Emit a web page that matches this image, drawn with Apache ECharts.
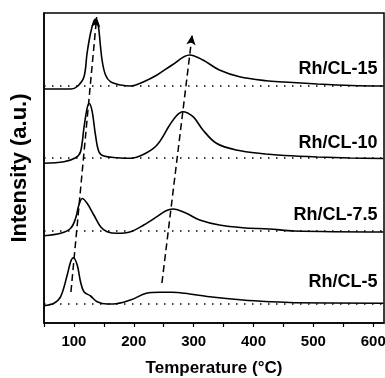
<!DOCTYPE html>
<html>
<head>
<meta charset="utf-8">
<script src="https://cdn.jsdelivr.net/npm/echarts@6/dist/echarts.min.js"></script>
<style>
  html, body { margin: 0; padding: 0; background: #fff; }
  #chart { width: 385px; height: 378px; }
</style>
</head>
<body>
<div id="chart"></div>
<script>
// sample names, bottom to top
const names = ['Rh/CL-5', 'Rh/CL-7.5', 'Rh/CL-10', 'Rh/CL-15']
// vertical offset of each trace (a.u.)
const offsets = [19.7, 92, 165, 237]

// temperature (°C) and intensity (a.u., relative to own baseline)
const temp5 = [50, 66.7, 77.8, 88.8, 94.5, 99, 105.5, 111, 116.7, 127.8, 138.8, 155.5, 165.5, 194.5, 221, 243, 264, 285, 326.7, 382, 426.7, 468, 617]
const int5 = [-2.4, 0, 6.6, 28.3, 41.6, 45.6, 38.3, 21.6, 11.6, 7.3, 1.6, -0.7, -0.7, 3.3, 10, 11, 11, 10, 6.6, 3.3, 1.6, 0.6, 0]

const temp75 = [50, 77.8, 94.5, 102.8, 108.3, 114, 122, 133.3, 144.5, 155.5, 172, 194.5, 216.7, 238.8, 253, 265.5, 287.8, 310, 343, 382, 426.7, 468, 617]
const int75 = [-4.7, -2.3, 2.7, 12.7, 26, 32.5, 27.7, 16, 4.3, -0.7, -2.3, -0.7, 6, 14.3, 20, 22, 17.7, 11, 6, 3.3, 2, 0, -1]

const temp10 = [50, 83.3, 102.8, 111, 116.7, 122, 125.8, 130.5, 136, 141.7, 150, 172, 194.5, 216.7, 238.8, 260, 271, 281.7, 299, 315.5, 338, 371, 421, 451.7, 506.7, 561.7, 617]
const int10 = [-5.3, -3.7, 0.3, 6.3, 30, 49.7, 54.5, 46.3, 23, 6.3, 2, 0.3, -0.3, 3.7, 13, 33, 42, 46.3, 41.3, 28, 14.7, 8, 4, 2.5, 1, 0, -0.5]

const temp15 = [50, 95, 105.5, 116.7, 122, 127.8, 133.3, 136.3, 140, 141.7, 147, 152.8, 161, 178, 194.5, 216.7, 238.8, 264, 293.3, 315.5, 343, 376.7, 421, 451.7, 506.7, 563, 617]
const int15 = [-3, -3, -0.5, 9, 33, 53, 65, 67, 62, 56, 26, 11, 4.3, 1, 0, 4.3, 11, 21, 31, 26, 16, 9.3, 5.3, 4, 2, 0.5, 0]

const temps = [temp5, temp75, temp10, temp15]
const ints = [int5, int75, int10, int15]

// peak-shift arrows: [tStart, yStart, tEnd, yEnd]
const arrowLow = [95, 31, 138, 306]
const arrowHigh = [247, 40, 297.5, 288]

// sample label anchors (temperature, height)
const labelT = 607
const labelY = [41.3, 108.3, 179.5, 254]

const xTicks = [100, 200, 300, 400, 500, 600]

const font = "'Liberation Sans', Arial, sans-serif"
const chart = echarts.init(document.getElementById('chart'))

const traceSeries = names.map((name, k) => ({
  name: name,
  type: 'line',
  smooth: 0.35,
  symbol: 'none',
  lineStyle: { color: '#000', width: 1.6 },
  data: temps[k].map((t, j) => [t, offsets[k] + ints[k][j]]),
  markLine: {
    silent: true,
    symbol: 'none',
    label: { show: false },
    lineStyle: { color: '#000', width: 1.5, type: [1.5, 6.5] },
    data: [{ yAxis: offsets[k] }]
  },
  markPoint: {
    symbol: 'circle',
    symbolSize: 0,
    label: {
      show: true,
      position: 'left',
      distance: 0,
      formatter: name,
      color: '#000',
      fontFamily: font,
      fontWeight: 'bold',
      fontSize: 18
    },
    data: [{ coord: [labelT, labelY[k]] }]
  }
}))

const arrowSeries = {
  type: 'line',
  data: [],
  markLine: {
    silent: true,
    symbol: ['none', 'arrow'],
    symbolSize: [7, 10],
    label: { show: false },
    lineStyle: { color: '#000', width: 1.5, type: [7, 4] },
    data: [arrowLow, arrowHigh].map(a => [
      { coord: [a[0], a[1]] },
      { coord: [a[2], a[3]] }
    ])
  }
}

chart.setOption({
  animation: false,
  grid: {
    left: 44, right: 1, top: 13, bottom: 55,
    outerBoundsMode: 'none',
    containLabel: false,
    show: true, borderColor: '#000', borderWidth: 1.5
  },
  xAxis: {
    type: 'value',
    min: 50,
    max: 618,
    interval: 50,
    name: 'Temperature (°C)',
    nameLocation: 'middle',
    nameGap: 37,
    nameTextStyle: { color: '#000', fontFamily: font, fontWeight: 'bold', fontSize: 17 },
    axisLine: { lineStyle: { color: '#000', width: 1.5 } },
    axisTick: { show: true, inside: false, length: 4, lineStyle: { color: '#000', width: 1.2 } },
    axisLabel: {
      color: '#000',
      fontFamily: font,
      fontWeight: 'bold',
      fontSize: 15,
      margin: 11,
      showMaxLabel: false,
      formatter: v => (xTicks.includes(v) ? String(v) : '')
    },
    splitLine: { show: false }
  },
  yAxis: {
    type: 'value',
    min: 0,
    max: 310,
    name: 'Intensity (a.u.)',
    nameLocation: 'middle',
    nameGap: 13,
    nameTextStyle: { color: '#000', fontFamily: font, fontWeight: 'bold', fontSize: 22 },
    axisLine: { show: true, lineStyle: { color: '#000', width: 1.5 } },
    axisTick: { show: false },
    axisLabel: { show: false },
    splitLine: { show: false }
  },
  series: [...traceSeries, arrowSeries]
})
</script>
</body>
</html>
